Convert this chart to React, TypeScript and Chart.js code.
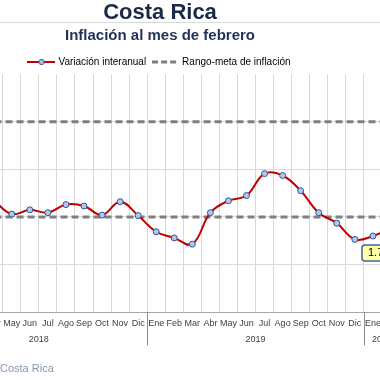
import { useEffect, useRef } from "react";
import { Chart, registerables } from "chart.js";

Chart.register(...registerables);

const monthLabels = [
  "Ene", "Feb", "Mar", "Abr", "May", "Jun", "Jul", "Ago", "Sep", "Oct", "Nov", "Dic",
  "Ene", "Feb", "Mar", "Abr", "May", "Jun", "Jul", "Ago", "Sep", "Oct", "Nov", "Dic",
  "Ene", "Feb",
];
const years = ["2018", "2019", "2020"];
const monthsPerYear = [12, 12, 2];

const inflation: (number | null)[] = [
  null, null, null, 2.35, 2.06, 2.15, 2.09, 2.26, 2.23, 2.04, 2.32, 2.03,
  1.69, 1.56, 1.43, 2.09, 2.34, 2.45, 2.91, 2.87, 2.55, 2.09, 1.87, 1.53,
  1.6, 1.77,
];
const targetLow = [
  2, 2, 2, 2, 2, 2, 2, 2, 2, 2, 2, 2,
  2, 2, 2, 2, 2, 2, 2, 2, 2, 2, 2, 2,
  2, 2,
];
const targetHigh = [
  4, 4, 4, 4, 4, 4, 4, 4, 4, 4, 4, 4,
  4, 4, 4, 4, 4, 4, 4, 4, 4, 4, 4, 4,
  4, 4,
];

const CANVAS_W = 480;
const CANVAS_H = 380;
const OFFSET_X = 80; // canvas is shifted left: the visible window starts here
const FONT = "'Liberation Sans', Arial, sans-serif";

function makeLineIcon(): HTMLCanvasElement {
  const c = document.createElement("canvas");
  c.width = 28;
  c.height = 10;
  const g = c.getContext("2d")!;
  g.strokeStyle = "#c00000";
  g.lineWidth = 2;
  g.beginPath();
  g.moveTo(0, 5);
  g.lineTo(28, 5);
  g.stroke();
  g.beginPath();
  g.arc(14, 5, 2.6, 0, Math.PI * 2);
  g.fillStyle = "#b4c7e7";
  g.fill();
  g.strokeStyle = "#2f5597";
  g.lineWidth = 1;
  g.stroke();
  return c;
}

function makeDashIcon(): HTMLCanvasElement {
  const c = document.createElement("canvas");
  c.width = 26;
  c.height = 10;
  const g = c.getContext("2d")!;
  g.strokeStyle = "#7f7f7f";
  g.lineWidth = 3;
  g.setLineDash([6, 3]);
  g.beginPath();
  g.moveTo(0, 5);
  g.lineTo(26, 5);
  g.stroke();
  return c;
}

const decorPlugin = {
  id: "decor",
  afterInit(chart: any) {
    const legend = chart.legend;
    if (legend && !legend.__trimmed) {
      const origFit = legend.fit.bind(legend);
      legend.fit = () => {
        origFit();
        legend.height = Math.max(0, legend.height - 3);
      };
      legend.__trimmed = true;
    }
  },
  afterDatasetsDraw(chart: any) {
    const ctx = chart.ctx;
    const meta = chart.getDatasetMeta(0);
    const idx = inflation.length - 1;
    const el = meta.data[idx];
    const v = inflation[idx];
    if (el && v != null) {
      const text = `${v.toFixed(2)}%`;
      ctx.save();
      ctx.font = `11px ${FONT}`;
      const w = ctx.measureText(text).width + 14;
      const left = el.x - 29;
      const top = el.y + 17;
      const h = 16;
      ctx.beginPath();
      ctx.roundRect(left, top, w, h, 3);
      ctx.fillStyle = "#ffffa6";
      ctx.fill();
      ctx.lineWidth = 1.5;
      ctx.strokeStyle = "#41659b";
      ctx.stroke();
      ctx.fillStyle = "#000";
      ctx.textAlign = "left";
      ctx.textBaseline = "middle";
      ctx.fillText(text, left + 6, top + h / 2 + 0.5);
      ctx.restore();
    }
  },
  afterDraw(chart: any) {
    const ctx = chart.ctx;
    const xs = chart.scales.x;
    const area = chart.chartArea;
    const half = (xs.getPixelForTick(1) - xs.getPixelForTick(0)) / 2;
    ctx.save();
    let start = 0;
    years.forEach((yr, i) => {
      const end = start + monthsPerYear[i] - 1;
      const gl = xs.getPixelForTick(start) - half;
      const gr = xs.getPixelForTick(end) + half;
      ctx.strokeStyle = "#8c8c8c";
      ctx.lineWidth = 1;
      ctx.beginPath();
      ctx.moveTo(Math.round(gl) + 0.5, area.bottom);
      ctx.lineTo(Math.round(gl) + 0.5, area.bottom + 33);
      ctx.stroke();
      ctx.fillStyle = "#404040";
      ctx.font = `9px ${FONT}`;
      ctx.textAlign = "center";
      ctx.textBaseline = "middle";
      ctx.fillText(yr, (gl + gr) / 2, area.bottom + 27);
      start = end + 1;
    });
    ctx.strokeStyle = "#d9d9d9";
    ctx.lineWidth = 1;
    ctx.beginPath();
    ctx.moveTo(0, 22.5);
    ctx.lineTo(CANVAS_W, 22.5);
    ctx.stroke();
    ctx.fillStyle = "#8497b0";
    ctx.font = `11px ${FONT}`;
    ctx.textAlign = "left";
    ctx.textBaseline = "middle";
    ctx.fillText("Costa Rica", OFFSET_X, 369);
    ctx.restore();
  },
};

export default function App() {
  const ref = useRef<HTMLCanvasElement>(null);

  useEffect(() => {
    if (!ref.current) return;
    const lineIcon = makeLineIcon();
    const dashIcon = makeDashIcon();
    const chart = new Chart(ref.current, {
      type: "line",
      data: {
        labels: monthLabels,
        datasets: [
          {
            label: "Variación interanual",
            data: inflation,
            borderColor: "#c00000",
            borderWidth: 2,
            tension: 0.4,
            pointRadius: 3,
            pointBackgroundColor: "#b4c7e7",
            pointBorderColor: "#2f5597",
            pointBorderWidth: 1,
          },
          {
            label: "Rango-meta de inflación",
            data: targetLow,
            borderColor: "#7f7f7f",
            borderWidth: 3,
            borderDash: [7, 4],
            pointRadius: 0,
          },
          {
            label: "Rango-meta de inflación (sup.)",
            data: targetHigh,
            borderColor: "#7f7f7f",
            borderWidth: 3,
            borderDash: [7, 4],
            pointRadius: 0,
          },
        ],
      },
      options: {
        responsive: false,
        animation: false,
        events: [],
        layout: { padding: 0, autoPadding: false },
        plugins: {
          title: {
            display: true,
            text: "Costa Rica",
            color: "#1c2a48",
            font: { family: FONT, size: 22, weight: "bold" },
            padding: { top: 0, bottom: 0 },
          },
          subtitle: {
            display: true,
            text: "Inflación al mes de febrero",
            color: "#1f3259",
            font: { family: FONT, size: 15, weight: "bold" },
            padding: { top: 0, bottom: 5.6 },
          },
          legend: {
            display: true,
            labels: {
              usePointStyle: true,
              pointStyleWidth: 24,
              boxHeight: 10,
              padding: 7,
              color: "#404040",
              font: { family: FONT, size: 10 },
              generateLabels: () => [
                {
                  text: "Variación interanual",
                  pointStyle: lineIcon as any,
                  fillStyle: "#c00000",
                  strokeStyle: "#c00000",
                  lineWidth: 0,
                  hidden: false,
                  datasetIndex: 0,
                },
                {
                  text: "Rango-meta de inflación",
                  pointStyle: dashIcon as any,
                  fillStyle: "#7f7f7f",
                  strokeStyle: "#7f7f7f",
                  lineWidth: 0,
                  hidden: false,
                  datasetIndex: 1,
                },
              ],
            },
          },
          tooltip: { enabled: false },
        },
        scales: {
          x: {
            type: "category",
            offset: true,
            grid: { offset: true, color: "#d9d9d9", drawTicks: false, lineWidth: 1 },
            border: { color: "#a6a6a6" },
            ticks: {
              autoSkip: false,
              maxRotation: 0,
              minRotation: 0,
              padding: 6,
              color: "#404040",
              font: { family: FONT, size: 9 },
            },
            afterFit: (s: any) => {
              s.height = 67.7;
              s.paddingLeft = 0;
              s.paddingRight = 0;
            },
          },
          y: {
            min: 0,
            max: 5,
            ticks: { display: false, stepSize: 1 },
            grid: {
              drawTicks: false,
              color: (c: any) => (c.tick && c.tick.value === 5 ? "rgba(0,0,0,0)" : "#d9d9d9"),
            },
            border: { display: false },
            afterFit: (s: any) => {
              s.width = 10.5;
              s.paddingTop = 0;
              s.paddingBottom = 0;
            },
          },
        },
      },
      plugins: [decorPlugin],
    });
    return () => chart.destroy();
  }, []);

  return (
    <div
      style={{
        position: "fixed",
        left: 0,
        top: 0,
        width: 380,
        height: 380,
        overflow: "hidden",
        background: "#ffffff",
      }}
    >
      <canvas
        ref={ref}
        width={CANVAS_W}
        height={CANVAS_H}
        style={{ position: "absolute", left: -OFFSET_X, top: 0, width: CANVAS_W, height: CANVAS_H }}
      />
    </div>
  );
}
